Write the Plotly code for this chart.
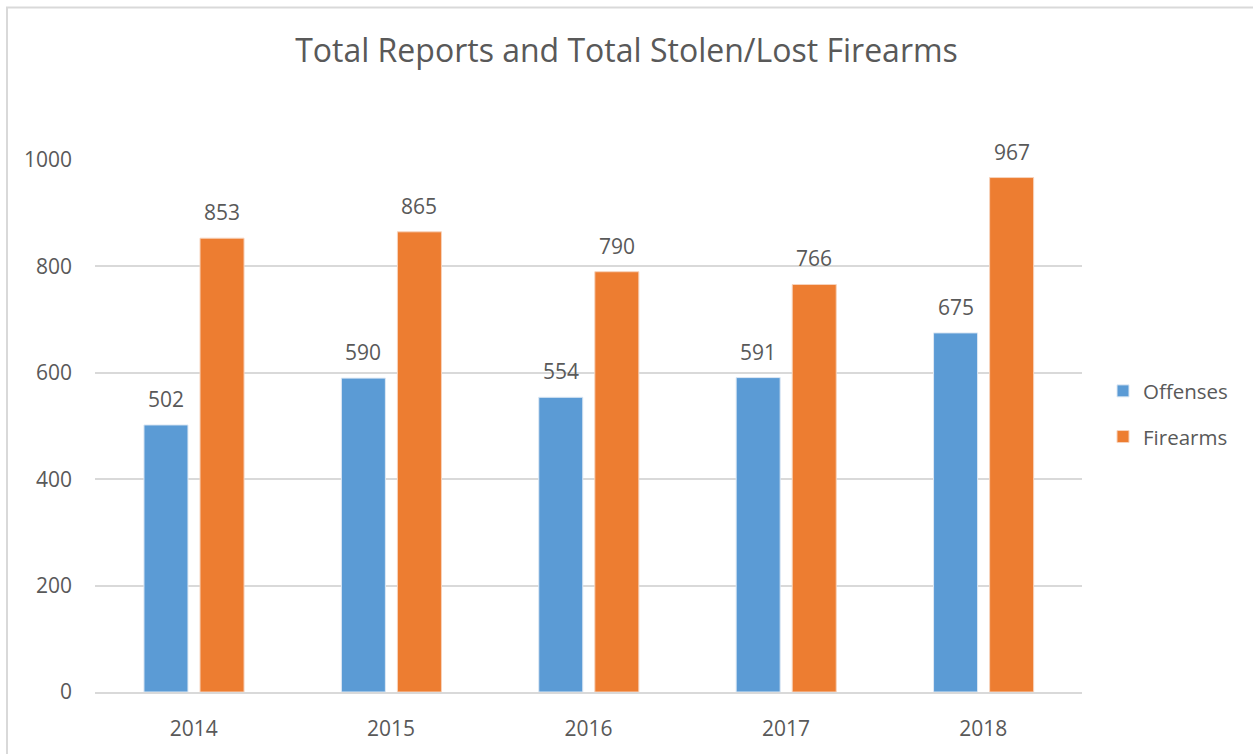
import plotly.graph_objects as go

# Yearly counts
years = ["2014", "2015", "2016", "2017", "2018"]
offenses = [502, 590, 554, 591, 675]
firearms = [853, 865, 790, 766, 967]
y_ticks = [0, 200, 400, 600, 800, 1000]

BLUE = "#5B9BD5"
ORANGE = "#ED7D31"
TEXT = "#595959"
GRID = "#D9D9D9"
FONT = "Open Sans"

# Bar geometry in category units (one category = 1.0)
BAR_W = 0.223
OFF_A = -0.252
OFF_B = 0.032

fig = go.Figure()
fig.add_trace(go.Bar(name="Offenses", x=years, y=offenses, marker_color=BLUE,
                     marker_line_color="#DDE8F4", marker_line_width=1,
                     width=BAR_W, offset=OFF_A, legendgroup="a"))
fig.add_trace(go.Bar(name="Firearms", x=years, y=firearms, marker_color=ORANGE,
                     marker_line_color="#F7D3BC", marker_line_width=1,
                     width=BAR_W, offset=OFF_B, legendgroup="b"))

# Value labels above each bar
annotations = []
for i, yr in enumerate(years):
    for vals, off in ((offenses, OFF_A), (firearms, OFF_B)):
        annotations.append(dict(
            x=i + off + BAR_W / 2, y=vals[i], xref="x", yref="y",
            text=str(vals[i]), showarrow=False, yanchor="bottom", yshift=10,
            font=dict(family=FONT, size=21, color=TEXT)))

W, H = 1253, 754
L, R, T, B = 95, 1082, 160, 694
pw, ph = R - L, B - T

def px(xp):
    return (xp - L) / pw

def py(yp):
    return (B - yp) / ph

fig.update_layout(
    width=W, height=H,
    margin=dict(l=L, r=W - R, t=T, b=H - B),
    paper_bgcolor="white", plot_bgcolor="white",
    barmode="overlay",
    title=dict(text="Total Reports and Total Stolen/Lost Firearms",
               x=0.5, xanchor="center", y=1 - 51 / H, yanchor="middle",
               font=dict(family=FONT, size=32, color=TEXT)),
    font=dict(family=FONT, color=TEXT),
    legend=dict(x=px(1103), y=py(415), xanchor="left", yanchor="middle",
                font=dict(family=FONT, size=20.5, color=TEXT),
                tracegroupgap=16, traceorder="grouped",
                itemwidth=30, bgcolor="rgba(0,0,0,0)"),
    annotations=annotations,
    shapes=[dict(type="rect", xref="paper", yref="paper",
                 x0=px(7), x1=px(1262), y0=py(762), y1=py(7),
                 line=dict(color="#D9D9D9", width=2), layer="below")],
    xaxis=dict(type="category", range=[-0.5, 4.5], showgrid=False,
               showline=True, linecolor=GRID, linewidth=2, ticks="",
               ticklabelstandoff=17,
               tickfont=dict(family=FONT, size=21, color=TEXT)),
    yaxis=dict(range=[0, 1000], tickvals=y_ticks, showgrid=True,
               gridcolor=GRID, gridwidth=1.5, zeroline=False,
               showline=False, ticks="", ticklabelstandoff=22,
               tickfont=dict(family=FONT, size=21, color=TEXT)),
)

fig.write_html("out.html")
